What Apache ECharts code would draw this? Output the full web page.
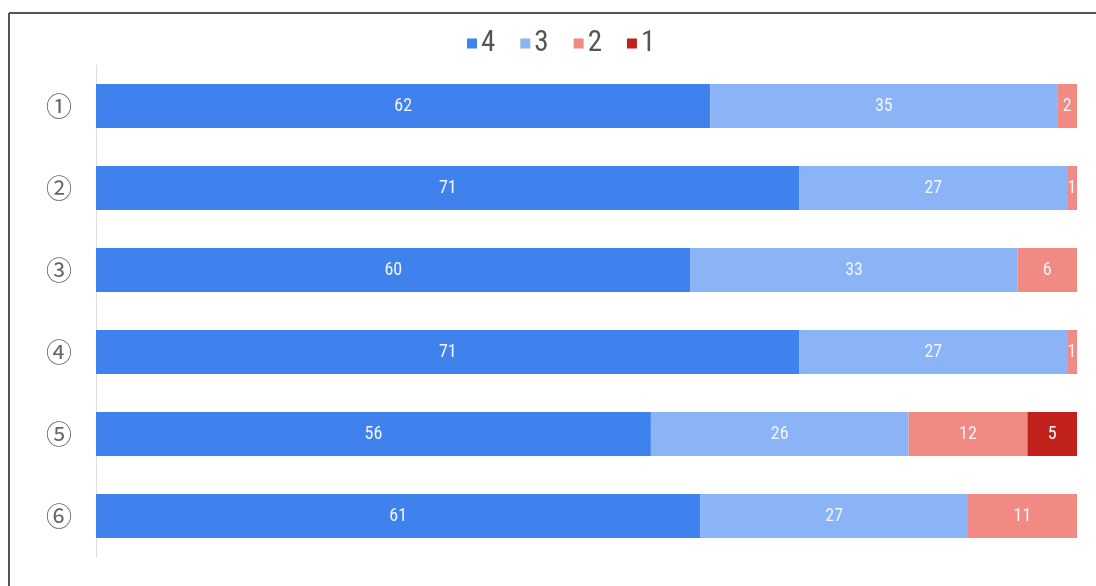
<!DOCTYPE html>
<html><head><meta charset="utf-8">
<script src="https://cdn.jsdelivr.net/npm/echarts@6/dist/echarts.min.js"></script>
<style>html,body{margin:0;padding:0;background:#fff}#c{width:1096px;height:586px}</style>
</head><body><div id="c"></div>
<script>
const categories = ['①','②','③','④','⑤','⑥'];
const seriesNames = ['4','3','2','1'];
const values4 = [62, 71, 60, 71, 56, 61];
const values3 = [35, 27, 33, 27, 26, 27];
const values2 = [2, 1, 6, 1, 12, 11];
const values1 = [null, null, null, null, 5, null];
const colors = ['#3f82ee', '#8ab4f6', '#f08a82', '#c0221b'];
const totalMax = 99;

const condensed = "'Liberation Sans Narrow', 'Roboto Condensed', Roboto, sans-serif";
const chart = echarts.init(document.getElementById('c'));
const allVals = [values4, values3, values2, values1];
chart.setOption({
  animation: false,
  color: colors,
  legend: {
    top: 24, left: 462, itemWidth: 10, itemHeight: 10, itemGap: 25,
    icon: 'rect',
    textStyle: { fontSize: 29, color: '#555', fontFamily: condensed, padding: [0, 0, 0, -1] },
    data: seriesNames
  },
  grid: { left: 96, right: 19, top: 65, bottom: 29 },
  xAxis: { type: 'value', min: 0, max: totalMax, show: false },
  yAxis: {
    type: 'category', data: categories, inverse: true,
    axisLine: { show: true, lineStyle: { color: '#ddd' } },
    axisTick: { show: false },
    axisLabel: { fontSize: 26, color: '#666', margin: 24, fontFamily: "'Noto Sans CJK JP', 'DejaVu Sans', sans-serif" }
  },
  series: seriesNames.map((n, i) => ({
    name: n, type: 'bar', stack: 'total', barWidth: 44,
    data: allVals[i],
    label: { show: true, position: 'inside', color: '#f2f4fb', fontSize: 18, fontFamily: condensed },
    itemStyle: { color: colors[i] }
  })),
  graphic: [
    { type: 'line', shape: { x1: 9, y1: 13, x2: 1096, y2: 13 }, style: { stroke: '#555', lineWidth: 2 } },
    { type: 'line', shape: { x1: 9, y1: 13, x2: 9, y2: 586 }, style: { stroke: '#555', lineWidth: 2 } }
  ]
});
</script></body></html>
